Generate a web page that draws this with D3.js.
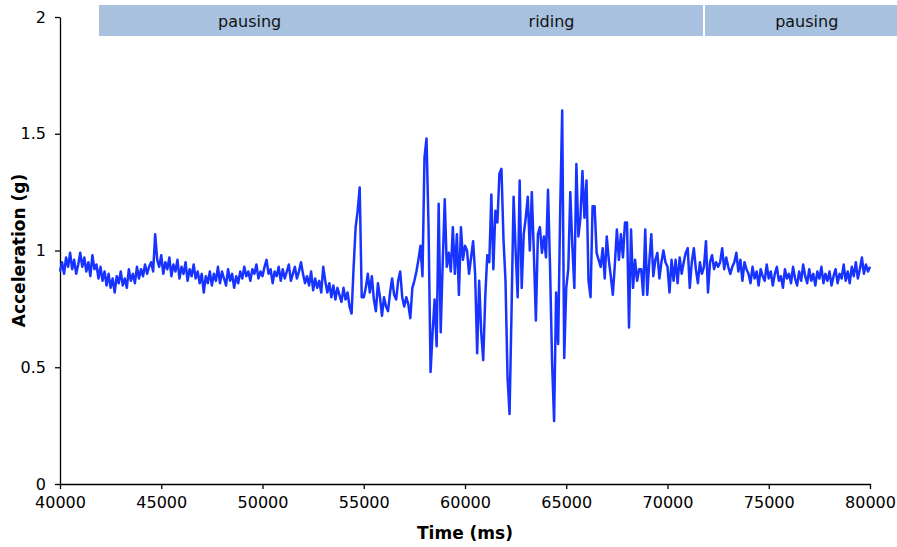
<!DOCTYPE html>
<html lang="en">
<head>
    <meta charset="UTF-8">
    <title>Acceleration</title>
    <script src="https://cdn.jsdelivr.net/npm/d3@7"></script>
    <style>
        body { margin: 0; background: #fff; }
        text { font-family: "DejaVu Sans", Verdana, sans-serif; fill: #000; }
        .axis path, .axis line { stroke: #000; stroke-width: 1.3; }
        .axis text { font-size: 16px; }
    </style>
</head>
<body>
<div id="chart"></div>

<script>
    // sampling of the trace
    const sampleStartMs = 40000;
    const sampleStepMs = 100;

    // acceleration (g), one row per second
    const accel = [
        0.91, 0.95, 0.90, 0.97, 0.93, 0.99, 0.92, 0.96, 0.90, 0.94, // 40 s
        0.99, 0.93, 0.97, 0.91, 0.95, 0.89, 0.98, 0.92, 0.94, 0.88, // 41 s
        0.93, 0.87, 0.91, 0.85, 0.90, 0.84, 0.88, 0.82, 0.89, 0.86, // 42 s
        0.91, 0.85, 0.88, 0.84, 0.92, 0.87, 0.90, 0.86, 0.93, 0.88, // 43 s
        0.92, 0.89, 0.94, 0.90, 0.93, 0.95, 0.91, 1.07, 0.96, 0.93, // 44 s
        0.98, 0.90, 0.95, 0.92, 0.97, 0.89, 0.94, 0.91, 0.96, 0.88, // 45 s
        0.93, 0.90, 0.95, 0.87, 0.92, 0.89, 0.94, 0.88, 0.91, 0.86, // 46 s
        0.90, 0.82, 0.89, 0.86, 0.91, 0.85, 0.90, 0.87, 0.93, 0.86, // 47 s
        0.91, 0.88, 0.85, 0.92, 0.87, 0.90, 0.84, 0.89, 0.86, 0.91, // 48 s
        0.88, 0.93, 0.89, 0.91, 0.87, 0.92, 0.90, 0.94, 0.88, 0.91, // 49 s
        0.89, 0.93, 0.96, 0.90, 0.92, 0.86, 0.91, 0.89, 0.93, 0.87, // 50 s
        0.92, 0.88, 0.91, 0.94, 0.87, 0.90, 0.93, 0.88, 0.91, 0.95, // 51 s
        0.90, 0.86, 0.89, 0.85, 0.91, 0.83, 0.88, 0.84, 0.87, 0.82, // 52 s
        0.93, 0.87, 0.82, 0.86, 0.80, 0.85, 0.79, 0.84, 0.81, 0.78, // 53 s
        0.84, 0.79, 0.82, 0.76, 0.73, 0.93, 1.10, 1.17, 1.27, 0.80, // 54 s
        0.80, 0.84, 0.90, 0.82, 0.89, 0.79, 0.74, 0.86, 0.80, 0.72, // 55 s
        0.80, 0.76, 0.74, 0.82, 0.88, 0.81, 0.79, 0.87, 0.91, 0.80, // 56 s
        0.76, 0.80, 0.77, 0.71, 0.84, 0.87, 0.91, 0.96, 1.02, 0.89, // 57 s
        1.40, 1.48, 1.10, 0.48, 0.65, 0.79, 0.59, 1.20, 0.65, 0.95, // 58 s
        1.22, 0.93, 0.99, 0.91, 1.10, 0.90, 1.07, 0.81, 1.10, 0.96, // 59 s
        1.02, 1.00, 0.90, 0.97, 1.04, 0.90, 0.56, 0.87, 0.65, 0.53, // 60 s
        0.80, 0.98, 0.95, 1.24, 0.92, 1.17, 1.12, 1.33, 1.35, 1.05, // 61 s
        0.87, 0.46, 0.30, 0.75, 1.23, 1.00, 0.80, 1.30, 0.84, 1.07, // 62 s
        1.14, 1.23, 1.00, 1.25, 0.99, 0.70, 1.07, 1.10, 0.99, 1.06, // 63 s
        0.97, 1.26, 0.93, 0.52, 0.27, 0.82, 0.60, 1.17, 1.60, 0.54, // 64 s
        0.84, 0.92, 1.25, 1.02, 0.84, 1.37, 1.06, 1.14, 1.34, 1.14, // 65 s
        1.30, 0.87, 0.80, 1.19, 1.19, 0.99, 0.96, 0.93, 1.01, 0.88, // 66 s
        1.06, 0.96, 0.89, 0.81, 0.94, 1.09, 0.96, 1.07, 0.97, 1.12, // 67 s
        1.12, 0.67, 1.09, 0.84, 0.96, 0.87, 0.92, 0.92, 0.81, 1.09, // 68 s
        0.81, 0.95, 1.07, 0.89, 0.96, 0.99, 0.88, 0.95, 1.00, 0.95, // 69 s
        0.93, 0.82, 0.96, 0.87, 0.96, 0.86, 0.97, 0.90, 0.95, 0.99, // 70 s
        1.01, 0.84, 0.95, 1.01, 0.92, 0.86, 0.95, 0.90, 0.93, 1.04, // 71 s
        0.82, 0.95, 0.98, 0.92, 0.95, 0.93, 0.95, 1.01, 0.92, 0.97, // 72 s
        0.93, 0.90, 0.93, 0.95, 0.99, 0.91, 0.96, 0.87, 0.95, 0.92, // 73 s
        0.90, 0.86, 0.93, 0.88, 0.91, 0.85, 0.92, 0.89, 0.87, 0.94, // 74 s
        0.88, 0.91, 0.85, 0.90, 0.93, 0.87, 0.89, 0.84, 0.92, 0.88, // 75 s
        0.90, 0.86, 0.93, 0.88, 0.85, 0.91, 0.87, 0.94, 0.89, 0.86, // 76 s
        0.92, 0.87, 0.90, 0.85, 0.91, 0.88, 0.93, 0.86, 0.90, 0.87, // 77 s
        0.91, 0.85, 0.89, 0.92, 0.86, 0.90, 0.88, 0.94, 0.87, 0.91, // 78 s
        0.86, 0.93, 0.89, 0.95, 0.88, 0.92, 0.97, 0.90, 0.94, 0.91, // 79 s
        0.93
    ];

    // activity phases shown in the band on top
    const phaseLabels = ["pausing", "riding", "pausing"];
    const phaseStartMs = [41930, 56800, 71850];
    const phaseEndMs = [56800, 71750, 81900];

    const xTicks = [40000, 45000, 50000, 55000, 60000, 65000, 70000, 75000, 80000];
    const yTicks = [0, 0.5, 1, 1.5, 2];

    const width = 897;
    const height = 547;
    const margin = {top: 17, right: 27, bottom: 63, left: 60};

    const svg = d3.select("#chart")
        .append("svg")
        .attr("width", width)
        .attr("height", height);

    const x = d3.scaleLinear()
        .domain([40000, 80000])
        .range([margin.left, width - margin.right]);

    const y = d3.scaleLinear()
        .domain([0, 2])
        .range([height - margin.bottom, margin.top]);

    // phase band
    const band = svg.append("g").attr("shape-rendering", "crispEdges");
    band.selectAll("rect")
        .data(phaseLabels)
        .enter()
        .append("rect")
        .attr("x", (d, i) => Math.round(x(phaseStartMs[i])))
        .attr("width", (d, i) => Math.round(x(phaseEndMs[i])) - Math.round(x(phaseStartMs[i])))
        .attr("y", 5)
        .attr("height", 31)
        .attr("fill", "#a7c1df");
    band.selectAll("text")
        .data(phaseLabels)
        .enter()
        .append("text")
        .attr("x", (d, i) => (x(phaseStartMs[i]) + x(phaseEndMs[i])) / 2)
        .attr("y", 21)
        .attr("dy", "0.35em")
        .attr("text-anchor", "middle")
        .style("font-size", "16px")
        .style("fill", "#111")
        .text(d => d);

    // axes
    svg.append("g")
        .attr("class", "axis")
        .attr("transform", "translate(0," + y(0) + ")")
        .call(d3.axisBottom(x).tickValues(xTicks).tickSize(5).tickSizeOuter(0)
            .tickPadding(8).tickFormat(d3.format("d")));

    svg.append("g")
        .attr("class", "axis")
        .attr("transform", "translate(" + x(40000) + ",0)")
        .call(d3.axisLeft(y).tickValues(yTicks).tickSize(5).tickSizeOuter(0)
            .tickPadding(9).tickFormat(d => d));

    // trace
    const line = d3.line()
        .x((d, i) => x(sampleStartMs + i * sampleStepMs))
        .y(d => y(d));

    svg.append("path")
        .datum(accel)
        .attr("fill", "none")
        .attr("stroke", "#1733ff")
        .attr("stroke-width", 2.5)
        .attr("stroke-linejoin", "round")
        .attr("d", line);

    // axis titles
    svg.append("text")
        .attr("x", (x(40000) + x(80000)) / 2)
        .attr("y", 539)
        .attr("text-anchor", "middle")
        .style("font-size", "17px")
        .style("font-weight", "bold")
        .text("Time (ms)");

    svg.append("text")
        .attr("transform", "translate(25," + y(1) + ") rotate(-90)")
        .attr("text-anchor", "middle")
        .style("font-size", "17px")
        .style("font-weight", "bold")
        .text("Acceleration (g)");
</script>

</body>
</html>
